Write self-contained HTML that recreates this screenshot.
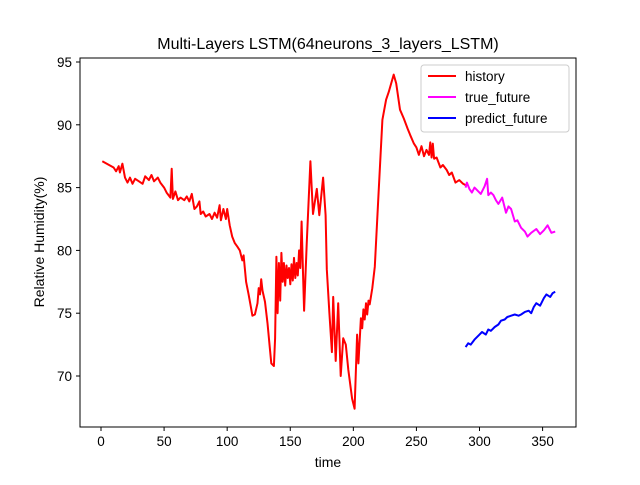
<!DOCTYPE html>
<html><head><meta charset="utf-8"><style>
body{margin:0;background:#fff;}
svg text{font-family:"Liberation Sans","DejaVu Sans",sans-serif;fill:#000;}
</style></head><body>
<svg id="chart" width="640" height="480">
<rect width="640" height="480" fill="#fff"/>
<text x="328" y="49" text-anchor="middle" font-size="16">Multi-Layers LSTM(64neurons_3_layers_LSTM)</text>
<g id="axes"></g>
<g id="series"></g>
<rect x="80" y="58" width="496" height="369" fill="none" stroke="#000" stroke-width="1"/>
<text x="328" y="467" text-anchor="middle" font-size="14">time</text>
<text transform="translate(44,242) rotate(-90)" text-anchor="middle" font-size="14">Relative Humidity(%)</text>
<g>
<rect x="421" y="65" width="148" height="67" rx="3" fill="#fff" fill-opacity="0.8" stroke="#ccc"/>
<g><line x1="428" y1="76" x2="456" y2="76" stroke="red" stroke-width="2"/><text x="465" y="81" font-size="13.5">history</text></g>
<g><line x1="428" y1="97" x2="456" y2="97" stroke="magenta" stroke-width="2"/><text x="465" y="102" font-size="13.5">true_future</text></g>
<g><line x1="428" y1="118" x2="456" y2="118" stroke="blue" stroke-width="2"/><text x="465" y="123" font-size="13.5">predict_future</text></g>
</g>
</svg>
<script>
const xTicks=[0,50,100,150,200,250,300,350];
const yTicks=[70,75,80,85,90,95];
const histT=[1,10,12,14,15,17,19,21,23,25,27,30,33,35,38,40,42,45,47,50,52,55,56,57,59,61,63,66,68,70,72,74,76,78,79,81,83,86,88,90,92,94,95,97,99,100,102,104,106,108,110,112,113,115,117,119,120,122,124,125,126,127,128,130,132,134,135,137,138,139,140,141,142,143,144,145,146,147,148,149,150,151,152,153,154,155,156,157,158,159,160,161,163,166,168,171,173,176,178,179,181,183,184,186,188,190,192,194,196,199,201,203,204,206,207,208,209,210,211,212,213,215,217,220,223,226,228,232,234,237,240,243,245,248,250,252,254,256,258,260,261,262,263,264,266,269,271,274,276,278,281,284,287,289];
const histV=[87.1,86.6,86.3,86.7,86.2,86.9,85.8,85.4,85.8,85.3,85.7,85.5,85.3,85.9,85.6,86.0,85.5,85.8,85.4,85.0,84.6,84.2,86.5,84.1,84.7,84.0,84.2,84.0,84.3,83.9,84.5,83.3,83.5,83.9,82.9,83.1,82.7,82.9,82.5,83.0,82.6,83.6,82.4,83.3,82.5,83.3,82.0,81.1,80.6,80.3,80.0,79.2,79.6,77.5,76.5,75.4,74.8,74.9,75.8,77.0,76.5,77.7,76.8,75.9,74.2,72.0,71.0,70.8,73.0,79.5,75.0,79.0,76.0,79.8,77.5,79.0,77.2,78.8,77.8,78.6,77.3,78.9,77.6,79.4,77.8,79.0,78.0,80.0,78.6,82.3,78.5,75.2,80.5,87.1,82.9,84.9,82.8,85.8,82.8,78.5,75.0,71.9,76.3,71.2,75.8,70.0,73.0,72.5,70.5,68.2,67.4,73.3,71.0,74.6,73.8,75.3,74.5,75.8,74.9,76.0,75.7,77.0,78.7,84.6,90.4,92.0,92.6,94.0,93.3,91.2,90.5,89.7,89.2,88.5,88.2,87.6,88.3,87.5,88.0,87.6,88.6,87.4,88.5,87.3,87.4,86.6,86.8,86.4,86.0,86.2,85.4,85.6,85.3,85.2];
const trueT=[289,290,292,294,296,298,301,304,306,307,309,311,313,315,318,321,323,325,328,330,333,336,338,341,345,348,351,354,357,360];
const trueV=[85.0,85.4,84.9,84.6,85.0,84.8,84.5,85.1,85.7,84.4,84.6,84.4,84.0,83.7,84.2,83.0,83.5,83.3,82.3,82.4,81.8,81.5,81.1,81.4,81.7,81.3,81.6,82.0,81.4,81.5];
const predT=[289,291,293,296,298,300,302,305,307,309,312,315,317,320,322,325,328,331,333,336,339,341,343,345,348,351,353,356,358,360];
const predV=[72.3,72.6,72.5,72.9,73.1,73.3,73.5,73.3,73.7,73.6,73.9,74.1,74.4,74.5,74.7,74.8,74.9,74.8,74.9,75.1,75.2,75.0,75.5,75.8,75.6,76.2,76.5,76.3,76.6,76.7];
function xs(t){return 101+t*1.2617;}
function ys(v){return 62+(95-v)*12.56;}
const NS="http://www.w3.org/2000/svg";
const ax=document.getElementById('axes');
xTicks.forEach(t=>{
 const l=document.createElementNS(NS,'line');
 
 
 l.setAttribute('x1',xs(t));l.setAttribute('x2',xs(t));l.setAttribute('y1',427);l.setAttribute('y2',431);l.setAttribute('stroke','#000');ax.appendChild(l);
 const tx=document.createElementNS(NS,'text');
 
 
 tx.setAttribute('x',xs(t));tx.setAttribute('y',446);tx.setAttribute('text-anchor','middle');tx.setAttribute('font-size','13.5');tx.textContent=t;ax.appendChild(tx);
});
yTicks.forEach(v=>{
 const l=document.createElementNS(NS,'line');
 
 
 l.setAttribute('x1',76);l.setAttribute('x2',80);l.setAttribute('y1',ys(v));l.setAttribute('y2',ys(v));l.setAttribute('stroke','#000');ax.appendChild(l);
 const tx=document.createElementNS(NS,'text');
 
 
 tx.setAttribute('x',72);tx.setAttribute('y',ys(v)+5);tx.setAttribute('text-anchor','end');tx.setAttribute('font-size','13.5');tx.textContent=v;ax.appendChild(tx);
});
const sg=document.getElementById('series');
function line(T,V,color,name){
 const p=document.createElementNS(NS,'polyline');
 
 
 p.setAttribute('points',T.map((t,i)=>xs(t).toFixed(1)+','+ys(V[i]).toFixed(1)).join(' '));
 p.setAttribute('fill','none');p.setAttribute('stroke',color);p.setAttribute('stroke-width','2');p.setAttribute('stroke-linejoin','round');
 sg.appendChild(p);
}
line(histT,histV,'red','history-line');
line(trueT,trueV,'magenta','true-future-line');
line(predT,predV,'blue','predict-future-line');
</script>
</body></html>
